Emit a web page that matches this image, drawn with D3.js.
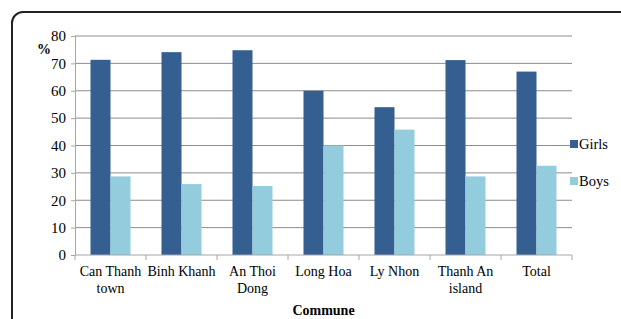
<!DOCTYPE html>
<html>
<head>
<meta charset="utf-8">
<script src="https://cdn.jsdelivr.net/npm/d3@7"></script>
<style>
  body { margin: 0; background: #fff; }
  svg text { font-family: "Liberation Serif", "Times New Roman", "DejaVu Serif", serif; }
</style>
</head>
<body>
<div id="chart"></div>
<script>
const width = 621;
const height = 319;

const communes = [["Can Thanh", "town"], ["Binh Khanh"], ["An Thoi", "Dong"], ["Long Hoa"], ["Ly Nhon"], ["Thanh An", "island"], ["Total"]];
const girls = [71.3, 74.1, 74.8, 60, 54, 71.2, 67];
const boys = [28.7, 25.9, 25.2, 40, 45.8, 28.7, 32.6];
const seriesNames = ["Girls", "Boys"];
const colors = ["#355F91", "#93CDDD"];
const yTicks = [0, 10, 20, 30, 40, 50, 60, 70, 80];

const margin = { left: 75, right: 49, top: 36, bottom: 64 };

const svg = d3.select("#chart").append("svg")
    .attr("width", width)
    .attr("height", height);

// outer frame with rounded corner
svg.append("rect")
    .attr("x", 12).attr("y", 12)
    .attr("width", width + 20).attr("height", height + 20)
    .attr("rx", 11)
    .attr("fill", "none")
    .attr("stroke", "#222")
    .attr("stroke-width", 2);

const x = d3.scaleBand()
    .domain(d3.range(communes.length))
    .range([margin.left, width - margin.right])
    .paddingInner(0).paddingOuter(0);

const y = d3.scaleLinear()
    .domain([0, 80])
    .range([height - margin.bottom, margin.top]);

// gridlines
svg.append("g")
    .selectAll("line")
    .data(yTicks.filter(d => d > 0))
    .enter().append("line")
    .attr("x1", margin.left).attr("x2", width - margin.right)
    .attr("y1", d => y(d)).attr("y2", d => y(d))
    .attr("stroke", "#8c8c8c")
    .attr("stroke-width", 1);

// y axis
const yAxis = svg.append("g")
    .attr("transform", `translate(${margin.left},0)`)
    .call(d3.axisLeft(y).tickValues(yTicks).tickSize(4).tickPadding(5));
yAxis.attr("font-family", null);
yAxis.select(".domain").attr("stroke", "#a6a6a6");
yAxis.selectAll(".tick line").attr("stroke", "#a6a6a6");
yAxis.selectAll("text").attr("font-size", 15).attr("fill", "#000");

// bars
const barW = 20;
const groups = svg.append("g")
    .selectAll("g")
    .data(communes.map((c, i) => [girls[i], boys[i]]))
    .enter().append("g")
    .attr("transform", (d, i) => `translate(${x(i) + x.bandwidth() / 2 - barW},0)`);

groups.selectAll("rect")
    .data(d => d)
    .enter().append("rect")
    .attr("x", (d, j) => j * barW)
    .attr("y", d => y(d))
    .attr("width", barW)
    .attr("height", d => y(0) - y(d))
    .attr("fill", (d, j) => colors[j]);

// x axis
const xAxisG = svg.append("g")
    .attr("transform", `translate(0,${y(0)})`);
xAxisG.append("line")
    .attr("x1", margin.left).attr("x2", width - margin.right)
    .attr("stroke", "#a6a6a6");
xAxisG.selectAll(".tk")
    .data(d3.range(communes.length + 1))
    .enter().append("line")
    .attr("x1", i => margin.left + i * x.bandwidth())
    .attr("x2", i => margin.left + i * x.bandwidth())
    .attr("y1", 0).attr("y2", 5)
    .attr("stroke", "#a6a6a6");

const labels = svg.append("g").selectAll("text")
    .data(communes)
    .enter().append("text")
    .attr("text-anchor", "middle")
    .attr("font-size", 14)
    .attr("x", (d, i) => x(i) + x.bandwidth() / 2)
    .attr("y", y(0) + 21);
labels.selectAll("tspan")
    .data(d => d)
    .enter().append("tspan")
    .attr("x", function () { return d3.select(this.parentNode).attr("x"); })
    .attr("dy", (d, j) => j === 0 ? 0 : 17)
    .text(d => d);

// axis titles
svg.append("text")
    .attr("x", 37).attr("y", 54)
    .attr("font-size", 14)
    .attr("font-weight", "bold")
    .text("%");

svg.append("text")
    .attr("x", (margin.left + width - margin.right) / 2)
    .attr("y", 315)
    .attr("text-anchor", "middle")
    .attr("font-size", 14)
    .attr("font-weight", "bold")
    .text("Commune");

// legend
const legend = svg.append("g").selectAll("g")
    .data(seriesNames)
    .enter().append("g")
    .attr("transform", (d, i) => `translate(570,${144 + i * 37})`);
legend.append("rect")
    .attr("x", 0).attr("y", -4)
    .attr("width", 8).attr("height", 8)
    .attr("fill", (d, i) => colors[i]);
legend.append("text")
    .attr("x", 9).attr("y", 5)
    .attr("font-size", 14.5)
    .text(d => d);
</script>
</body>
</html>
